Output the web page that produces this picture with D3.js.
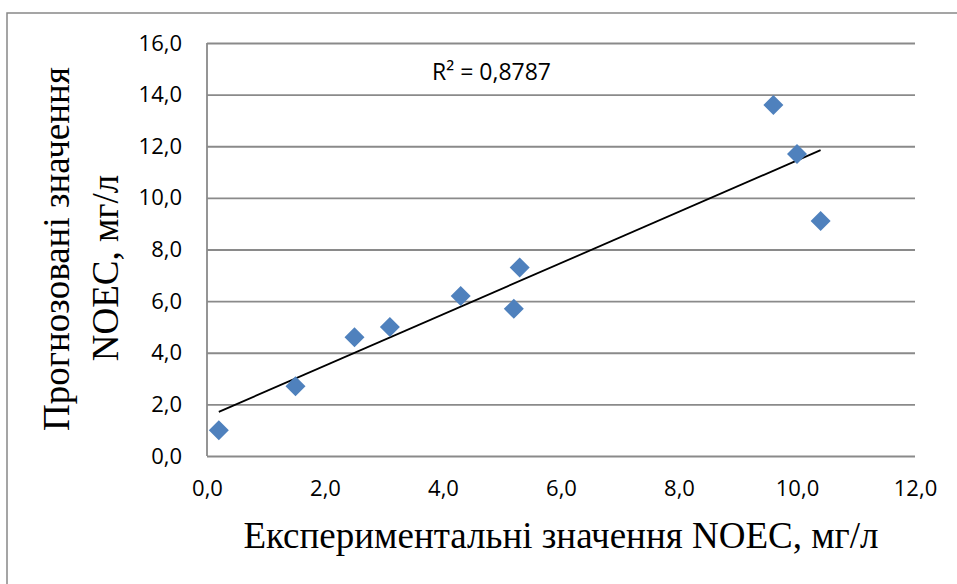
<!DOCTYPE html>
<html>
<head>
<meta charset="utf-8">
<script src="https://cdn.jsdelivr.net/npm/d3@7"></script>
<style>
  body { margin: 0; background: #fff; }
  svg { display: block; }
</style>
</head>
<body>
<div id="chart"></div>
<script>
// values
var expValues = [0.2, 1.5, 2.5, 3.1, 4.3, 5.2, 5.3, 9.6, 10.0, 10.4];   // experimental NOEC
var predValues = [1.0, 2.7, 4.6, 5.0, 6.2, 5.7, 7.3, 13.6, 11.7, 9.1]; // predicted NOEC
var xTicks = [0, 2, 4, 6, 8, 10, 12];
var yTicks = [0, 2, 4, 6, 8, 10, 12, 14, 16];
var r2Label = "R² = 0,8787";
var xTitle = "Експериментальні значення NOEC, мг/л";
var yTitle = ["Прогнозовані значення", "NOEC, мг/л"];

var W = 957, H = 584;
var margin = {left: 207, top: 43, right: 42, bottom: 128};
var pw = W - margin.left - margin.right;
var ph = H - margin.top - margin.bottom;

var locale = d3.formatLocale({decimal: ",", thousands: " ", grouping: [3], currency: ["", ""]});
var fmt = locale.format(".1f");

var svg = d3.select("#chart").append("svg")
    .attr("width", W)
    .attr("height", H);

// outer chart border (runs off the right and bottom of the picture)
svg.append("rect")
    .attr("x", 7).attr("y", 13)
    .attr("width", W + 20).attr("height", H + 20)
    .attr("fill", "none")
    .attr("stroke", "#888")
    .attr("stroke-width", 1.5);

var x = d3.scaleLinear().domain([0, 12]).range([0, pw]);
var y = d3.scaleLinear().domain([0, 16]).range([ph, 0]);

var g = svg.append("g").attr("transform", "translate(" + margin.left + "," + margin.top + ")");

// horizontal gridlines + y labels
var yAxis = g.append("g")
    .call(d3.axisLeft(y).tickValues(yTicks).tickSize(-pw).tickPadding(25).tickFormat(fmt));
yAxis.select(".domain").remove();
yAxis.selectAll(".tick line").attr("stroke", "#8a8a8a").attr("stroke-width", 1.8);
yAxis.selectAll(".tick text")
    .attr("font-family", "'Open Sans', sans-serif")
    .attr("font-size", 22)
    .attr("fill", "#000");

// vertical axis line
g.append("line")
    .attr("x1", 0).attr("x2", 0)
    .attr("y1", 0).attr("y2", ph)
    .attr("stroke", "#8a8a8a").attr("stroke-width", 1.8);

// x labels
var xAxis = g.append("g")
    .attr("transform", "translate(0," + ph + ")")
    .call(d3.axisBottom(x).tickValues(xTicks).tickSize(0).tickPadding(24).tickFormat(fmt));
xAxis.select(".domain").remove();
xAxis.selectAll(".tick text")
    .attr("font-family", "'Open Sans', sans-serif")
    .attr("font-size", 22)
    .attr("fill", "#000");

// linear trendline (least squares)
var n = expValues.length;
var mx = d3.mean(expValues), my = d3.mean(predValues);
var sxy = 0, sxx = 0;
for (var i = 0; i < n; i++) {
  sxy += (expValues[i] - mx) * (predValues[i] - my);
  sxx += (expValues[i] - mx) * (expValues[i] - mx);
}
var slope = sxy / sxx;
var icept = my - slope * mx;
var xr = d3.extent(expValues);

g.append("line")
    .attr("x1", x(xr[0])).attr("y1", y(icept + slope * xr[0]))
    .attr("x2", x(xr[1])).attr("y2", y(icept + slope * xr[1]))
    .attr("stroke", "#000")
    .attr("stroke-width", 1.8);

// diamond markers
var pts = expValues.map(function (v, i) { return {x: v, y: predValues[i]}; });
g.selectAll(".pt")
    .data(pts)
    .enter().append("path")
    .attr("class", "pt")
    .attr("d", d3.symbol(d3.symbolSquare, 200))
    .attr("transform", function (d) { return "translate(" + x(d.x) + "," + y(d.y) + ") rotate(45)"; })
    .attr("fill", "#4f81bd");

// R² label
svg.append("text")
    .attr("x", 432).attr("y", 80)
    .attr("font-family", "'Open Sans', sans-serif")
    .attr("font-size", 23)
    .attr("fill", "#000")
    .text(r2Label);

// axis titles
svg.append("text")
    .attr("x", margin.left + pw / 2).attr("y", 548)
    .attr("text-anchor", "middle")
    .attr("font-family", "'Liberation Serif', 'Times New Roman', serif")
    .attr("font-size", 37)
    .attr("fill", "#000")
    .text(xTitle);

svg.append("text")
    .attr("transform", "translate(69,249) rotate(-90)")
    .attr("text-anchor", "middle")
    .attr("font-family", "'Liberation Serif', 'Times New Roman', serif")
    .attr("font-size", 37)
    .attr("fill", "#000")
    .text(yTitle[0]);

svg.append("text")
    .attr("transform", "translate(118,268) rotate(-90)")
    .attr("text-anchor", "middle")
    .attr("font-family", "'Liberation Serif', 'Times New Roman', serif")
    .attr("font-size", 37)
    .attr("fill", "#000")
    .text(yTitle[1]);
</script>
</body>
</html>
